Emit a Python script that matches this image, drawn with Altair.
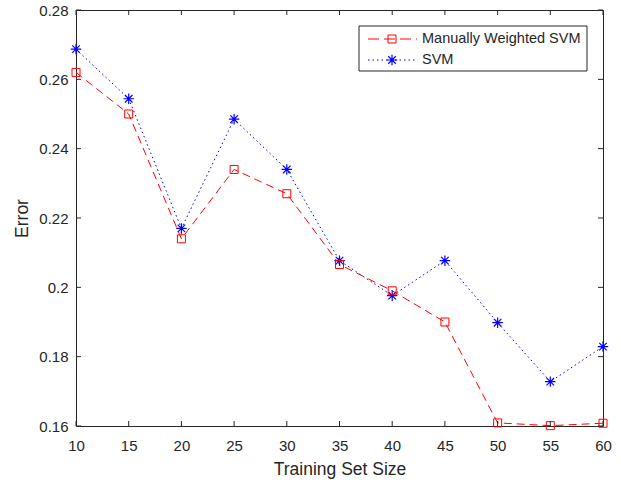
import altair as alt
import pandas as pd

# Training set sizes and classification errors
sizes = [10, 15, 20, 25, 30, 35, 40, 45, 50, 55, 60]
weighted_svm = [0.262, 0.250, 0.214, 0.234, 0.227, 0.2066, 0.199, 0.190, 0.1609, 0.1601, 0.1608]
svm = [0.2687, 0.2544, 0.217, 0.2485, 0.234, 0.2077, 0.1976, 0.2077, 0.1898, 0.1728, 0.1829]

x_ticks = [10, 15, 20, 25, 30, 35, 40, 45, 50, 55, 60]
y_ticks = [0.16, 0.18, 0.20, 0.22, 0.24, 0.26, 0.28]
legend_labels = ["Manually Weighted SVM", "SVM"]

W, H = 527, 416
FONT = "Liberation Sans"
INK = "#262626"
RED = "#ff0000"
BLUE = "#0000ff"
ASTERISK = "M-1,0L1,0M0,-1L0,1M-0.72,-0.72L0.72,0.72M-0.72,0.72L0.72,-0.72"

df_w = pd.DataFrame({"size": sizes, "error": weighted_svm})
df_s = pd.DataFrame({"size": sizes, "error": svm})
df_xt = pd.DataFrame({"size": x_ticks})
df_yt = pd.DataFrame({"error": y_ticks})
one = pd.DataFrame({"k": [0]})

x_enc = alt.X(
    "size:Q",
    scale=alt.Scale(domain=[10, 60], nice=False, zero=False),
    axis=alt.Axis(values=x_ticks, title="Training Set Size", tickSize=0, domain=False,
                  grid=False, labelPadding=12, titlePadding=7,
                  labelFlush=False, labelOverlap=False),
)
y_enc = alt.Y(
    "error:Q",
    scale=alt.Scale(domain=[0.16, 0.28], nice=False, zero=False),
    axis=alt.Axis(values=y_ticks, format=".2~f", title="Error", tickSize=0, domain=False,
                  grid=False, labelPadding=8, titlePadding=7,
                  labelFlush=False, labelOverlap=False),
)

line_w = alt.Chart(df_w).mark_line(color=RED, strokeWidth=1, strokeDash=[8, 5]).encode(x=x_enc, y=y_enc)
pts_w = alt.Chart(df_w).mark_point(shape="square", size=64, color=RED, strokeWidth=1,
                                   filled=False, opacity=1).encode(x=x_enc, y=y_enc)
line_s = alt.Chart(df_s).mark_line(color=BLUE, strokeWidth=1, strokeDash=[1.5, 3]).encode(x=x_enc, y=y_enc)
pts_s = alt.Chart(df_s).mark_point(shape=ASTERISK, size=110, color=BLUE, strokeWidth=1.2,
                                   filled=False, opacity=1).encode(x=x_enc, y=y_enc)

# Inward tick marks on all four sides of the box
tick_style = dict(color=INK, strokeWidth=1)
t_bottom = alt.Chart(df_xt).mark_rule(**tick_style).encode(x=x_enc, y=alt.value(H), y2=alt.value(H - 5))
t_top = alt.Chart(df_xt).mark_rule(**tick_style).encode(x=x_enc, y=alt.value(0), y2=alt.value(5))
t_left = alt.Chart(df_yt).mark_rule(**tick_style).encode(y=y_enc, x=alt.value(0), x2=alt.value(5))
t_right = alt.Chart(df_yt).mark_rule(**tick_style).encode(y=y_enc, x=alt.value(W), x2=alt.value(W - 5))

# Legend box in the upper right corner
lx0, lx1, ly0, ly1 = 283, 511, 16, 61
row1, row2 = 29, 50
leg_box = alt.Chart(one).mark_rect(fill="white", stroke=INK, strokeWidth=1).encode(
    x=alt.value(lx0), x2=alt.value(lx1), y=alt.value(ly0), y2=alt.value(ly1))
leg_line_w = alt.Chart(one).mark_rule(color=RED, strokeWidth=1, strokeDash=[11, 5]).encode(
    x=alt.value(292), x2=alt.value(341), y=alt.value(row1))
leg_pt_w = alt.Chart(one).mark_point(shape="square", size=64, color=RED, strokeWidth=1,
                                     filled=False, opacity=1).encode(x=alt.value(316), y=alt.value(row1))
leg_line_s = alt.Chart(one).mark_rule(color=BLUE, strokeWidth=1, strokeDash=[1.5, 3]).encode(
    x=alt.value(292), x2=alt.value(341), y=alt.value(row2))
leg_pt_s = alt.Chart(one).mark_point(shape=ASTERISK, size=110, color=BLUE, strokeWidth=1.2,
                                     filled=False, opacity=1).encode(x=alt.value(316), y=alt.value(row2))
leg_txt_w = alt.Chart(one).mark_text(align="left", baseline="middle", font=FONT, fontSize=14.5,
                                     color=INK).encode(x=alt.value(346), y=alt.value(row1),
                                                       text=alt.value(legend_labels[0]))
leg_txt_s = alt.Chart(one).mark_text(align="left", baseline="middle", font=FONT, fontSize=14.5,
                                     color=INK).encode(x=alt.value(346), y=alt.value(row2),
                                                       text=alt.value(legend_labels[1]))

chart = alt.layer(
    line_s, line_w, pts_s, pts_w,
    t_bottom, t_top, t_left, t_right,
    leg_box, leg_line_w, leg_pt_w, leg_line_s, leg_pt_s, leg_txt_w, leg_txt_s,
).properties(
    width=W, height=H,
    autosize=alt.AutoSizeParams(type="none"),
    padding={"left": 76, "top": 10, "right": 18, "bottom": 57},
    background="white",
).configure_view(
    stroke=INK, strokeWidth=1,
).configure_axis(
    labelFont=FONT, titleFont=FONT, labelFontSize=15, titleFontSize=17.5,
    labelColor=INK, titleColor=INK, titleFontWeight="normal",
)

chart.save("out.html", embed_options={"renderer": "svg", "actions": False})
